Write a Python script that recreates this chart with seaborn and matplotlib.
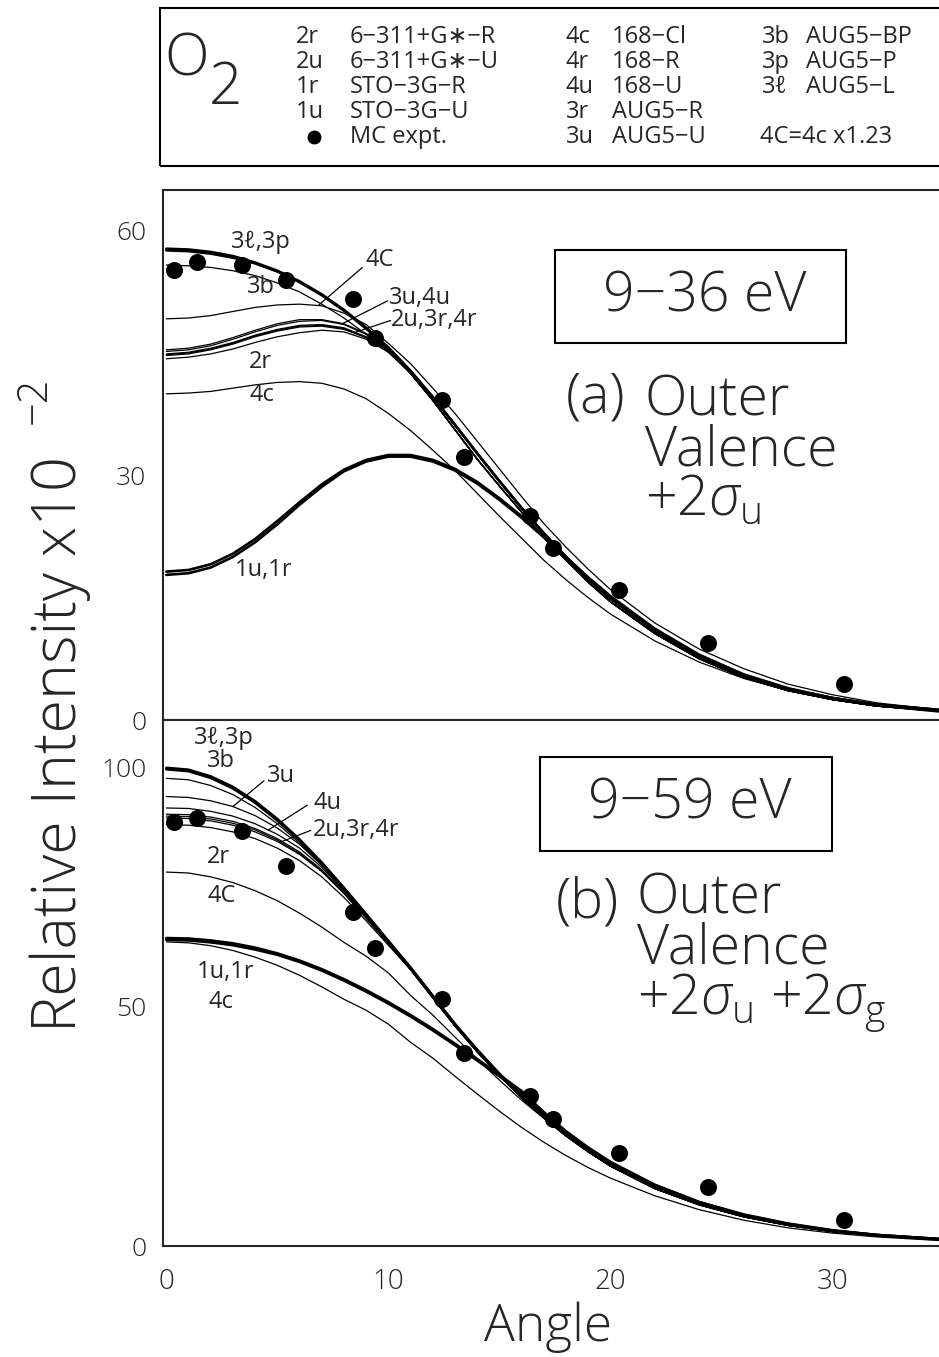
import numpy as np
import pandas as pd
import matplotlib
import matplotlib.pyplot as plt
import seaborn as sns
from matplotlib import font_manager as fm
from matplotlib.patches import Rectangle

W, H = 939, 1357

angles = [0, 1, 2, 3, 4, 5, 6, 7, 8, 9, 10, 11, 12, 13, 14, 15, 16, 17, 18, 19, 20,
          22, 24, 26, 28, 30, 32, 35]

# MC experimental points
mc_angle = [0.35, 1.4, 3.4, 5.4, 8.4, 9.4, 12.4, 13.4, 16.4, 17.4, 20.4, 24.4, 30.5]
mc_a = [55.2, 56.2, 55.8, 54.0, 51.6, 46.9, 39.3, 32.2, 25.0, 21.1, 16.0, 9.5, 4.4]
mc_b = [88.6, 89.6, 86.7, 79.4, 69.9, 62.3, 51.7, 40.3, 31.4, 26.6, 19.4, 12.4, 5.4]

# (a) 9-36 eV, angles 11..35 shared tails of the bundle
tail_a3 = [42.8, 39.6, 36.2, 32.7, 29.3, 26.0, 22.9, 20.0, 17.3, 14.9, 10.9, 7.7, 5.4, 3.8, 2.7, 1.9, 1.2]
tail_am = [42.5, 39.2, 35.6, 32.0, 28.7, 25.5, 22.4, 19.6, 16.9, 14.5, 10.6, 7.5, 5.2, 3.6, 2.5, 1.7, 1.1]
a_3l = [57.8, 57.7, 57.4, 56.9, 56.1, 55.1, 53.8, 52.2, 50.3, 48.1, 45.7] + tail_a3
a_3p = [57.6, 57.5, 57.2, 56.7, 56.0, 55.0, 53.7, 52.1, 50.2, 48.0, 45.6] + tail_a3
a_3b = [55.8, 55.7, 55.5, 55.1, 54.5, 53.6, 52.5, 51.0, 49.3, 47.3, 45.1] + tail_a3
a_3u = [45.4, 45.6, 46.1, 46.9, 47.8, 48.6, 49.1, 49.1, 48.6, 47.4, 45.6] + tail_am
a_4u = [45.2, 45.4, 45.9, 46.7, 47.6, 48.4, 48.9, 49.0, 48.5, 47.3, 45.5] + tail_am
a_2u = [44.9, 45.1, 45.6, 46.3, 47.2, 47.9, 48.4, 48.5, 48.1, 47.0, 45.4] + tail_am
a_3r = [44.8, 45.0, 45.5, 46.2, 47.1, 47.8, 48.3, 48.4, 48.0, 46.9, 45.3] + tail_am
a_4r = [44.7, 44.9, 45.4, 46.1, 47.0, 47.7, 48.2, 48.3, 47.9, 46.9, 45.3] + tail_am
a_2r = [44.3, 44.5, 44.9, 45.5, 46.3, 47.0, 47.5, 47.8, 47.6, 46.7, 45.1] + tail_am
a_4c = [40.0, 40.1, 40.3, 40.7, 41.1, 41.4, 41.5, 41.3, 40.6, 39.4, 37.6, 35.5, 33.1, 30.6,
        27.8, 25.0, 22.3, 19.6, 17.2, 15.0, 13.0, 9.7, 7.1, 5.1, 3.6, 2.5, 1.7, 1.0]
a_4C = [49.2, 49.3, 49.6, 50.1, 50.6, 50.9, 51.0, 50.8, 49.9, 48.5, 46.2, 43.7, 40.7, 37.6,
        34.2, 30.8, 27.4, 24.1, 21.2, 18.5, 16.0, 11.9, 8.7, 6.3, 4.4, 3.1, 2.1, 1.2]
a_1u = [18.2, 18.4, 19.1, 20.4, 22.2, 24.4, 26.7, 28.9, 30.7, 31.9, 32.5, 32.5, 31.9, 30.8,
        29.2, 27.2, 25.0, 22.6, 20.0, 17.5, 15.2, 11.2, 8.0, 5.6, 3.9, 2.7, 1.8, 1.1]
a_1r = [17.8, 18.0, 18.7, 20.0, 21.8, 24.0, 26.4, 28.6, 30.5, 31.7, 32.3, 32.3, 31.7, 30.6,
        29.0, 27.0, 24.8, 22.4, 19.8, 17.3, 15.0, 11.1, 7.9, 5.5, 3.8, 2.6, 1.8, 1.0]

# (b) 9-59 eV
tail_bh = [58.2, 52.3, 46.4, 41.0, 36.0, 31.4, 27.2, 23.4, 20.0, 17.0, 12.3, 8.8, 6.3, 4.5, 3.2, 2.3, 1.4]
tail_bl = [57.8, 51.9, 46.0, 40.6, 35.6, 31.0, 26.8, 23.0, 19.7, 16.7, 12.0, 8.6, 6.1, 4.3, 3.0, 2.2, 1.3]
b_3l = [100.0, 99.6, 98.2, 96.0, 93.0, 89.3, 85.0, 80.2, 74.9, 69.4, 63.8] + tail_bh
b_3p = [99.7, 99.3, 97.9, 95.7, 92.7, 89.0, 84.8, 80.0, 74.7, 69.3, 63.7] + tail_bh
b_3b = [97.8, 97.5, 96.3, 94.4, 91.7, 88.3, 84.3, 79.7, 74.6, 69.2, 63.6] + tail_bh
b_3u = [94.0, 93.8, 93.1, 91.9, 90.0, 87.4, 84.0, 79.6, 74.4, 69.0, 63.5] + tail_bh
b_4u = [91.6, 91.5, 90.9, 89.9, 88.3, 86.1, 83.2, 79.2, 74.2, 68.9, 63.4] + tail_bl
b_2u = [90.3, 90.2, 89.7, 88.8, 87.3, 85.2, 82.4, 78.7, 73.9, 68.7, 63.3] + tail_bl
b_3r = [89.9, 89.8, 89.3, 88.4, 87.0, 84.9, 82.1, 78.5, 73.8, 68.6, 63.2] + tail_bl
b_4r = [89.5, 89.4, 88.9, 88.0, 86.6, 84.6, 81.9, 78.3, 73.7, 68.5, 63.2] + tail_bl
b_2r = [88.1, 88.0, 87.5, 86.6, 85.2, 83.2, 80.6, 77.2, 72.9, 68.0, 62.9] + tail_bl
b_4C = [78.2, 78.0, 77.2, 76.0, 74.3, 72.2, 69.6, 66.7, 63.5, 60.6, 57.1, 52.4, 48.3, 43.7,
        39.1, 34.7, 30.5, 26.7, 23.2, 20.2, 17.5, 12.9, 9.3, 6.6, 4.7, 3.3, 2.3, 1.4]
b_4c = [63.6, 63.4, 62.8, 61.8, 60.4, 58.7, 56.6, 54.2, 51.6, 49.3, 46.4, 42.6, 39.3, 35.5,
        31.8, 28.2, 24.8, 21.7, 18.9, 16.4, 14.2, 10.5, 7.6, 5.4, 3.8, 2.7, 1.9, 1.1]
b_1u = [64.4, 64.3, 63.9, 63.3, 62.4, 61.2, 59.7, 57.9, 55.8, 53.5, 51.0, 48.3, 45.4, 42.3,
        39.1, 35.8, 32.4, 28.0, 24.0, 20.6, 17.6, 12.8, 9.2, 6.6, 4.7, 3.3, 2.3, 1.4]
b_1r = [64.0, 63.9, 63.5, 62.9, 62.0, 60.9, 59.4, 57.6, 55.5, 53.2, 50.7, 48.0, 45.1, 42.0,
        38.8, 35.5, 32.1, 27.8, 23.8, 20.4, 17.4, 12.7, 9.1, 6.5, 4.6, 3.2, 2.2, 1.3]

thick = {"3l", "3p", "1u", "1r"}
curves_a = {"3l": a_3l, "3p": a_3p, "3b": a_3b, "3u": a_3u, "4u": a_4u, "2u": a_2u,
            "3r": a_3r, "4r": a_4r, "2r": a_2r, "4c": a_4c, "4C": a_4C, "1u": a_1u, "1r": a_1r}
curves_b = {"3l": b_3l, "3p": b_3p, "3b": b_3b, "3u": b_3u, "4u": b_4u, "2u": b_2u,
            "3r": b_3r, "4r": b_4r, "2r": b_2r, "4c": b_4c, "4C": b_4C, "1u": b_1u, "1r": b_1r}

sns.set_style("white")

# pick a family that really has a light face; widths scale differs a bit
FAM, SC = "Roboto", 1.08
for fam, sc in [("Open Sans", 1.0), ("Noto Sans", 1.0), ("Roboto", 1.08)]:
    p = fm.findfont(fm.FontProperties(family=fam, weight="light"), fallback_to_default=False)
    if "light" in p.lower():
        FAM, SC = fam, sc
        break

plt.rcParams["font.family"] = [FAM, "DejaVu Sans"]
plt.rcParams["mathtext.fontset"] = "custom"
plt.rcParams["mathtext.rm"] = FAM + ":light"
plt.rcParams["mathtext.it"] = FAM + ":italic:light"

fig = plt.figure(figsize=(W / 100, H / 100), dpi=100)


def fx(x):
    return x / W


def fy(y):
    return 1 - y / H


ax_a = fig.add_axes([fx(163), fy(720), (W - 163) / W, (720 - 190) / H])
ax_b = fig.add_axes([fx(163), fy(1246), (W - 163) / W, (1246 - 720) / H])


def draw_panel(ax, curves, mc, ymax, ymajor, yminor):
    for name, vals in curves.items():
        df = pd.DataFrame({"angle": angles, "value": vals})
        sns.lineplot(data=df, x="angle", y="value", ax=ax, color="black",
                     lw=1.9 if name in thick else 0.9, sort=False)
    sns.scatterplot(x=mc_angle, y=mc, ax=ax, color="black", s=150,
                    edgecolor="black", linewidth=0, zorder=5)
    ax.set_xlim(-0.15, 34.8)
    ax.set_ylim(0, ymax)
    ax.set_xlabel("")
    ax.set_ylabel("")
    ax.set_xticks([0, 10, 20, 30])
    ax.set_xticks([5, 15, 25], minor=True)
    ax.set_yticks(ymajor)
    ax.set_yticks(yminor, minor=True)
    ax.tick_params(which="major", direction="in", length=12, width=1.4,
                   labelsize=19 * SC, pad=12)
    ax.tick_params(which="minor", direction="in", length=7, width=1.2)
    ax.tick_params(axis="x", which="major", length=9)
    ax.tick_params(axis="x", which="minor", length=5)
    for t in ax.get_xticklabels() + ax.get_yticklabels():
        t.set_fontweight("light")
    ax.spines["right"].set_visible(False)
    for s in ["left", "top", "bottom"]:
        ax.spines[s].set_linewidth(1.5)
    ax.set_facecolor("white")


draw_panel(ax_a, curves_a, mc_a, 65, [0, 30, 60], [15, 45])
draw_panel(ax_b, curves_b, mc_b, 110, [0, 50, 100], [25, 75])
ax_a.tick_params(axis="x", labelbottom=False)
ax_b.tick_params(axis="x", pad=16, labelsize=20 * SC)

LS = 17 * SC
lab = dict(fontsize=LS, ha="center", va="center")
labl = dict(fontsize=LS, ha="left", va="center")
lead = dict(color="black", lw=0.9)

# labels panel (a)
ax_a.text(4.27, 58.6, "3ℓ,3p", **lab)
ax_a.text(4.24, 53.1, "3b", **lab)
ax_a.text(4.24, 43.9, "2r", **lab)
ax_a.text(4.30, 39.9, "4c", **lab)
ax_a.text(4.36, 18.4, "1u,1r", **lab)
ax_a.plot([6.87, 8.83], [50.9, 55.5], **lead)
ax_a.text(8.98, 56.4, "4C", **labl)
ax_a.plot([7.93, 9.96], [48.6, 51.4], **lead)
ax_a.text(10.04, 51.7, "3u,4u", **labl)
ax_a.plot([8.46, 10.1], [47.5, 49.0], **lead)
ax_a.text(10.11, 49.0, "2u,3r,4r", **labl)

# labels panel (b)
ax_b.text(2.59, 106.2, "3ℓ,3p", **lab)
ax_b.text(2.44, 101.4, "3b", **lab)
ax_b.text(2.36, 81.4, "2r", **lab)
ax_b.text(2.51, 73.1, "4C", **lab)
ax_b.text(2.66, 57.4, "1u,1r", **lab)
ax_b.text(2.44, 51.1, "4c", **lab)
ax_b.plot([3.0, 4.4], [91.9, 97.3], **lead)
ax_b.text(4.55, 98.2, "3u", **labl)
ax_b.plot([4.6, 6.35], [87.0, 92.2], **lead)
ax_b.text(6.65, 92.6, "4u", **labl)
ax_b.plot([5.1, 6.5], [84.4, 86.9], **lead)
ax_b.text(6.58, 87.0, "2u,3r,4r", **labl)

# energy boxes and panel titles
BIG = 40 * SC
for (x0, y0, x1, y1), txt in [((555, 250, 846, 343), "9−36 eV"),
                              ((540, 757, 832, 851), "9−59 eV")]:
    fig.add_artist(Rectangle((fx(x0), fy(y1)), (x1 - x0) / W, (y1 - y0) / H,
                             transform=fig.transFigure, fill=False, lw=1.5, color="black"))
    fig.text(fx((x0 + x1) / 2 + 4), fy((y0 + y1) / 2), txt, fontsize=BIG,
             fontweight="light", ha="center", va="center")

big = dict(fontsize=BIG, fontweight="light", ha="left", va="center")
fig.text(fx(566), fy(398), "(a)", **big)
fig.text(fx(645), fy(451), "Outer\nValence\n" + r"+2$\sigma_\mathregular{u}$",
         linespacing=0.88, multialignment="left", **big)
fig.text(fx(556), fy(903), "(b)", **big)
fig.text(fx(637), fy(953),
         "Outer\nValence\n" + r"+2$\sigma_\mathregular{u}$ +2$\sigma_\mathregular{g}$",
         linespacing=0.88, multialignment="left", **big)

# axis titles
fig.text(fx(60), fy(744), "Relative Intensity x10", rotation=90, fontsize=44 * SC,
         fontweight="light", ha="center", va="center")
fig.text(fx(34), fy(400), "−2", rotation=90, fontsize=30 * SC, fontweight="light",
         ha="center", va="center")
fig.text(fx(548), fy(1327), "Angle", fontsize=37 * SC, fontweight="light",
         ha="center", va="center")

# legend box
fig.add_artist(Rectangle((fx(160), fy(166)), (950 - 160) / W, (166 - 8) / H,
                         transform=fig.transFigure, fill=False, lw=1.5, color="black"))
fig.text(fx(187), fy(60), "O", fontsize=42 * SC, fontweight="light", ha="center", va="center")
fig.text(fx(225), fy(89), "2", fontsize=42 * SC, fontweight="light", ha="center", va="center")

rows = [37, 62, 87, 112, 137]
leg = dict(fontsize=17 * SC, ha="left", va="center")
col1 = [("2r", "6−311+G∗−R"), ("2u", "6−311+G∗−U"), ("1r", "STO−3G−R"), ("1u", "STO−3G−U")]
for (c, n), y in zip(col1, rows):
    fig.text(fx(296), fy(y), c, **leg)
    fig.text(fx(350), fy(y), n, **leg)
fig.text(fx(350), fy(rows[4]), "MC expt.", **leg)
fig.add_artist(plt.Line2D([fx(314)], [fy(rows[4])], marker="o", ms=9, color="black",
                          transform=fig.transFigure))
col2 = [("4c", "168−Cl"), ("4r", "168−R"), ("4u", "168−U"), ("3r", "AUG5−R"), ("3u", "AUG5−U")]
for (c, n), y in zip(col2, rows):
    fig.text(fx(566), fy(y), c, **leg)
    fig.text(fx(612), fy(y), n, **leg)
col3 = [("3b", "AUG5−BP"), ("3p", "AUG5−P"), ("3ℓ", "AUG5−L")]
for (c, n), y in zip(col3, rows):
    fig.text(fx(762), fy(y), c, **leg)
    fig.text(fx(806), fy(y), n, **leg)
fig.text(fx(760), fy(rows[4]), "4C=4c x1.23", **leg)

fig.savefig("out.png", dpi=100, facecolor="white")
